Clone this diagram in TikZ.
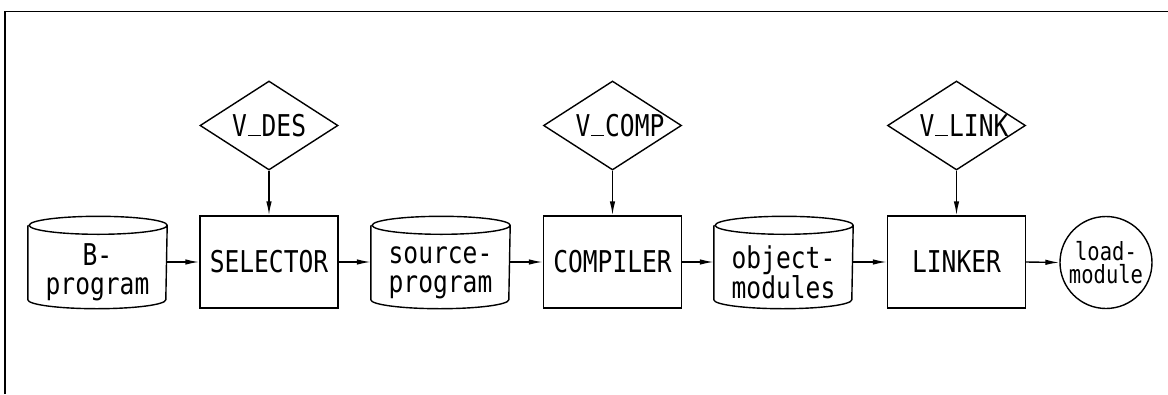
\documentclass[tikz,border=0pt]{standalone}
\usepackage{fontspec}
\usetikzlibrary{shapes.geometric,arrows.meta}
\newfontfamily\plotfont[FakeStretch=0.82]{DejaVu Sans Mono}
% plotter-style underscore sitting on the baseline
\newcommand{\plotusc}{\makebox[0.495em]{\rule[0pt]{0.42em}{1.3pt}}}
\begin{document}
\begin{tikzpicture}[x=1pt,y=-1pt,
  line width=1.4pt,
  every node/.style={font=\plotfont\fontsize{30}{36}\selectfont, inner sep=0pt},
  procbox/.style={draw, rectangle, minimum width=138pt, minimum height=92pt, align=center},
  storebox/.style={rectangle, minimum width=138pt, minimum height=91pt},
  storetext/.style={align=center, font=\plotfont\fontsize{30}{29}\selectfont},
  paramnode/.style={draw, diamond, aspect=1.55, minimum width=138pt, minimum height=89pt},
  resultnode/.style={draw, circle, minimum size=92pt, align=center,
    font=\plotfont\fontsize{25}{23}\selectfont},
  flow/.style={-{Latex[length=14pt,width=5.5pt]}, line width=1.4pt}
]
% page extent and the open frame (top and left edges only)
\useasboundingbox (0,0) rectangle (1168,394);
\draw[line width=1.6pt] (5,394) -- (5,11.5) -- (1168,11.5);

% data stores (drawn as cylinders below)
\node[storebox] (bprog)  at (97.5,262.5)  {};
\node[storebox] (srcprog) at (440.5,262.5) {};
\node[storebox] (objmod) at (783.5,262.5) {};
\node[storetext] (bprogtxt)   at ([yshift=-10pt]bprog.center)   {B-\\program};
\node[storetext] (srcprogtxt) at ([yshift=-10pt]srcprog.center) {source-\\program};
\node[storetext] (objmodtxt)  at ([yshift=-10pt]objmod.center)  {object-\\modules};

% processing steps
\node[procbox] (selector) at (269,262) {\raisebox{-2pt}{SELECTOR}};
\node[procbox] (compiler) at (612.5,262) {\raisebox{-2pt}{COMPILER}};
\node[procbox] (linker)   at (956.5,262) {\raisebox{-2pt}{LINKER}};

% parameter inputs
\node[paramnode] (vdes)  at (269,125.5)   {\makebox[74pt][l]{V\plotusc DES}};
\node[paramnode] (vcomp) at (612.5,125.5) {\makebox[74pt][l]{V\plotusc COMP}};
\node[paramnode] (vlink) at (956.5,125.5) {\makebox[74pt][l]{V\plotusc LINK}};

% final product
\node[resultnode] (loadmod) at (1106,262.5) {load-\\module};

% cylinder outlines round the data stores
\foreach \n in {bprog,srcprog,objmod}{
  \draw ([yshift=-9pt]\n.north west) -- ([yshift=9pt]\n.south west)
    arc[start angle=180, end angle=360, x radius=69pt, y radius=9pt]
    -- ([yshift=-9pt]\n.north east)
    arc[start angle=0, end angle=180, x radius=69pt, y radius=9pt]
    arc[start angle=180, end angle=360, x radius=69pt, y radius=9pt];
}

% data flow
\draw[flow] (bprog.east |- selector.west) -- (selector.west);
\draw[flow] (selector.east) -- (srcprog.west |- selector.east);
\draw[flow] (srcprog.east |- compiler.west) -- (compiler.west);
\draw[flow] (compiler.east) -- (objmod.west |- compiler.east);
\draw[flow] (objmod.east |- linker.west) -- (linker.west);
\draw[flow] (linker.east) -- (loadmod.west);

% parameters feeding the steps
\draw[flow] (vdes.south) -- (selector.north);
\draw[flow] (vcomp.south) -- (compiler.north);
\draw[flow] (vlink.south) -- (linker.north);
\end{tikzpicture}
\end{document}
